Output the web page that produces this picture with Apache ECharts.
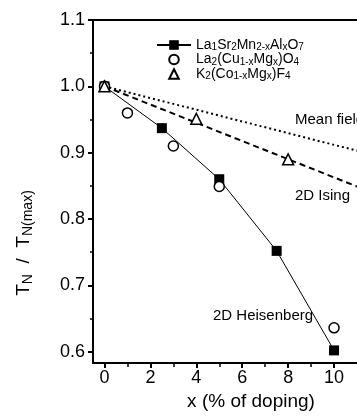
<!DOCTYPE html>
<html><head><meta charset="utf-8">
<script src="https://cdn.jsdelivr.net/npm/echarts@6/dist/echarts.min.js"></script>
<style>html,body{margin:0;padding:0;background:#fff}#c{width:357px;height:418px}</style>
</head><body><div id="c"></div>
<script>
// ---- data ----
const seriesNames = ['La1Sr2Mn2-xAlxO7', 'La2(Cu1-xMgx)O4', 'K2(Co1-xMgx)F4'];
const legendRich = [
  '{m|La}{s|1}{m|Sr}{s|2}{m|Mn}{s|2-x}{m|Al}{s|x}{m|O}{s|7}',
  '{m|La}{s|2}{m|(Cu}{s|1-x}{m|Mg}{s|x}{m|)O}{s|4}',
  '{m|K}{s|2}{m|(Co}{s|1-x}{m|Mg}{s|x}{m|)F}{s|4}'
];
const laSrX = [0, 2.5, 5, 7.5, 10];
const laSrY = [1.0, 0.937, 0.86, 0.752, 0.602];
const laCuX = [0, 1, 3, 5, 10];
const laCuY = [1.0, 0.96, 0.91, 0.849, 0.636];
const kCoX = [0, 4, 8];
const kCoY = [1.0, 0.951, 0.89];
const meanFieldX = [0, 11];
const meanFieldY = [1.0, 0.903];
const isingX = [0, 11];
const isingY = [1.0, 0.849];
const xTicks = [0, 2, 4, 6, 8, 10];
const xMinorTicks = [1, 3, 5, 7, 9];
const yTicks = [0.6, 0.7, 0.8, 0.9, 1.0, 1.1];
const yMinorTicks = [0.65, 0.75, 0.85, 0.95, 1.05];
const annotations = ['Mean field', '2D Ising', '2D Heisenberg'];
const xTitle = 'x (% of doping)';
const yTitleRich = '{m|T}{s|N}{m|  /  T}{s|N(max)}';

const zip = (a, b) => a.map((v, i) => [v, b[i]]);
const FF = '"Liberation Sans", Arial, Helvetica, sans-serif';
const K = '#000';

const chart = echarts.init(document.getElementById('c'), null, {renderer: 'canvas'});
const xBase = {type: 'value', min: -0.5, max: 11, gridIndex: 0, splitLine: {show: false}};
const yBase = {type: 'value', min: 0.583, max: 1.1, gridIndex: 0, splitLine: {show: false}};

chart.setOption({
  animation: false,
  backgroundColor: '#fff',
  textStyle: {fontFamily: FF, color: K},
  grid: {left: 93, top: 20, right: -10, bottom: 55, containLabel: false},
  xAxis: [
    Object.assign({}, xBase, {
      position: 'bottom',
      axisLine: {onZero: false, lineStyle: {color: K, width: 2}},
      axisTick: {customValues: xTicks, length: 5, lineStyle: {color: K, width: 2}},
      axisLabel: {customValues: xTicks, fontSize: 18, color: K, margin: 6, fontFamily: FF}
    }),
    Object.assign({}, xBase, {
      position: 'bottom',
      axisLine: {show: false, onZero: false},
      axisTick: {customValues: xMinorTicks, length: 4, lineStyle: {color: K, width: 1.5}},
      axisLabel: {show: false}
    }),
    Object.assign({}, xBase, {
      position: 'top',
      axisLine: {onZero: false, lineStyle: {color: K, width: 2}},
      axisTick: {show: false},
      axisLabel: {show: false}
    })
  ],
  yAxis: [
    Object.assign({}, yBase, {
      position: 'left',
      axisLine: {onZero: false, lineStyle: {color: K, width: 2}},
      axisTick: {customValues: yTicks, length: 5, lineStyle: {color: K, width: 2}},
      axisLabel: {customValues: yTicks, fontSize: 18, color: K, margin: 8, fontFamily: FF,
        formatter: v => v.toFixed(1)}
    }),
    Object.assign({}, yBase, {
      position: 'left',
      axisLine: {show: false, onZero: false},
      axisTick: {customValues: yMinorTicks, length: 3, lineStyle: {color: K, width: 1.5}},
      axisLabel: {show: false}
    })
  ],
  legend: {
    data: seriesNames,
    orient: 'vertical',
    left: 156, top: 38,
    padding: 0,
    itemGap: 0,
    itemWidth: 34,
    itemHeight: 12,
    formatter: name => legendRich[seriesNames.indexOf(name)],
    textStyle: {
      color: K, fontFamily: FF, fontSize: 14,
      rich: {
        m: {fontSize: 14, lineHeight: 15, verticalAlign: 'middle', fontFamily: FF, color: K},
        s: {fontSize: 10, lineHeight: 10, verticalAlign: 'bottom', fontFamily: FF, color: K}
      }
    }
  },
  series: [
    {
      name: 'meanField', type: 'line', data: zip(meanFieldX, meanFieldY),
      xAxisIndex: 0, yAxisIndex: 0, symbol: 'none', silent: true, z: 1,
      lineStyle: {color: K, width: 2, type: [2, 3]}
    },
    {
      name: 'ising', type: 'line', data: zip(isingX, isingY),
      xAxisIndex: 0, yAxisIndex: 0, symbol: 'none', silent: true, z: 1,
      lineStyle: {color: K, width: 2, type: [6, 4]}
    },
    {
      name: seriesNames[0], type: 'line', data: zip(laSrX, laSrY),
      xAxisIndex: 0, yAxisIndex: 0, symbol: 'rect', symbolSize: 10, z: 3,
      itemStyle: {color: K},
      lineStyle: {color: K, width: 1}
    },
    {
      name: seriesNames[1], type: 'line', data: zip(laCuX, laCuY),
      xAxisIndex: 0, yAxisIndex: 0, symbol: 'circle', symbolSize: 10, z: 4,
      showAllSymbol: true,
      itemStyle: {color: '#fff', borderColor: K, borderWidth: 1.5},
      lineStyle: {width: 0, opacity: 0}
    },
    {
      name: seriesNames[2], type: 'line', data: zip(kCoX, kCoY),
      xAxisIndex: 0, yAxisIndex: 0, symbol: 'triangle', symbolSize: 11, z: 4,
      showAllSymbol: true,
      itemStyle: {color: '#fff', borderColor: K, borderWidth: 1.5},
      lineStyle: {width: 0, opacity: 0}
    }
  ],
  graphic: [
    {type: 'text', x: 295, y: 120, style: {text: annotations[0], fontSize: 15, fontFamily: FF, fill: K, align: 'left', verticalAlign: 'middle'}},
    {type: 'text', x: 295, y: 196, style: {text: annotations[1], fontSize: 15, fontFamily: FF, fill: K, align: 'left', verticalAlign: 'middle'}},
    {type: 'text', x: 213, y: 316, style: {text: annotations[2], fontSize: 15, fontFamily: FF, fill: K, align: 'left', verticalAlign: 'middle'}},
    {type: 'text', x: 251, y: 402, style: {text: xTitle, fontSize: 19, fontFamily: FF, fill: K, align: 'center', verticalAlign: 'middle'}},
    {type: 'text', x: 24, y: 243, rotation: Math.PI / 2, style: {
      text: yTitleRich, fontFamily: FF, fill: K, align: 'center', verticalAlign: 'middle',
      rich: {
        m: {fontSize: 19, lineHeight: 22, verticalAlign: 'middle', fontFamily: FF, fill: K},
        s: {fontSize: 14, lineHeight: 14, verticalAlign: 'bottom', fontFamily: FF, fill: K}
      }
    }}
  ]
});
</script>
</body></html>
